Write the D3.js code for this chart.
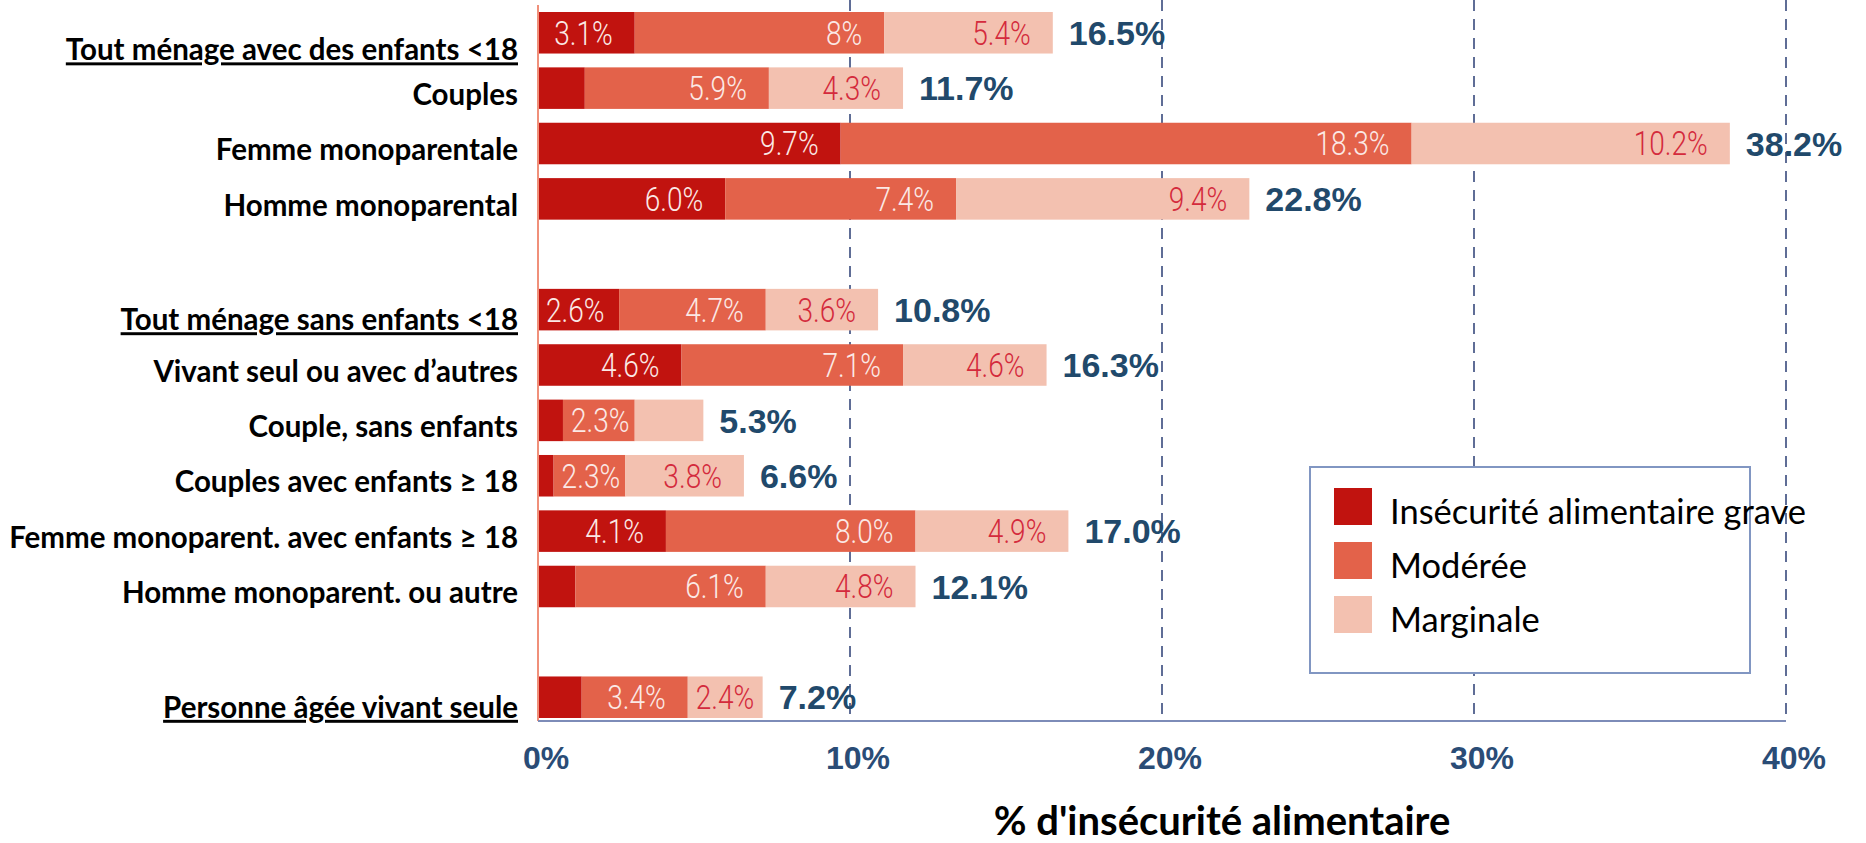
<!DOCTYPE html>
<html>
<head>
<meta charset="utf-8">
<script src="https://cdn.jsdelivr.net/npm/d3@7"></script>
<style>
  body { margin: 0; background: #fff; }
  svg { display: block; }
</style>
</head>
<body>
<div id="viz"></div>
<script>
'use strict';

// groups of households, one blank slot between groups
var groups = [
    ['Tout ménage avec des enfants <18', 'Couples', 'Femme monoparentale', 'Homme monoparental'],
    ['Tout ménage sans enfants <18', 'Vivant seul ou avec d\u2019autres', 'Couple, sans enfants',
     'Couples avec enfants \u2265 18', 'Femme monoparent. avec enfants \u2265 18', 'Homme monoparent. ou autre'],
    ['Personne âgée vivant seule']
];
var categories = groups.flat();

// % of households
var grave     = [3.1, 1.5, 9.7, 6.0, 2.6, 4.6, 0.8, 0.5, 4.1, 1.2, 1.4];
var moderee   = [8.0, 5.9, 18.3, 7.4, 4.7, 7.1, 2.3, 2.3, 8.0, 6.1, 3.4];
var marginale = [5.4, 4.3, 10.2, 9.4, 3.6, 4.6, 2.2, 3.8, 4.9, 4.8, 2.4];

// printed labels (empty = not shown)
var graveLabels     = ['3.1%', '', '9.7%', '6.0%', '2.6%', '4.6%', '', '', '4.1%', '', ''];
var modereeLabels   = ['8%', '5.9%', '18.3%', '7.4%', '4.7%', '7.1%', '2.3%', '2.3%', '8.0%', '6.1%', '3.4%'];
var marginaleLabels = ['5.4%', '4.3%', '10.2%', '9.4%', '3.6%', '4.6%', '', '3.8%', '4.9%', '4.8%', '2.4%'];
var totalLabels     = ['16.5%', '11.7%', '38.2%', '22.8%', '10.8%', '16.3%', '5.3%', '6.6%', '17.0%', '12.1%', '7.2%'];

var xTicks = [0, 10, 20, 30, 40];
var seriesNames = ['Insécurité alimentaire grave', 'Modérée', 'Marginale'];
var seriesKeys = ['grave', 'moderee', 'marginale'];
var colors = ['#c1130f', '#e3624a', '#f3c1b0'];
var labelColors = ['#fbe9e6', '#fbe9e6', '#d42a3c'];

var W = 1866, H = 843;

// slot list with spacers between groups
var slots = [];
groups.forEach(function(g, gi) {
    if (gi > 0) slots.push('gap' + gi);
    g.forEach(function(c) { slots.push(c); });
});
var headings = groups.map(function(g) { return g[0]; });

var rows = categories.map(function(c, i) {
    return {
        name: c,
        grave: grave[i], moderee: moderee[i], marginale: marginale[i],
        labels: [graveLabels[i], modereeLabels[i], marginaleLabels[i]],
        total: totalLabels[i]
    };
});

var x = d3.scaleLinear().domain([0, 40]).range([538, 1786]);
var y = d3.scaleBand().domain(slots).range([12, 718]).paddingInner(0.25).paddingOuter(0);

var svg = d3.select('#viz').append('svg')
    .attr('width', W)
    .attr('height', H);

// dashed gridlines
svg.append('g')
    .selectAll('line')
    .data(xTicks.filter(function(d) { return d > 0; }))
    .enter().append('line')
    .attr('x1', d => x(d)).attr('x2', d => x(d))
    .attr('y1', 0).attr('y2', 721)
    .attr('stroke', '#5f6d96')
    .attr('stroke-width', 2)
    .attr('stroke-dasharray', '11,8');

var stack = d3.stack().keys(seriesKeys);
var series = stack(rows);

var layer = svg.append('g')
    .selectAll('g')
    .data(series)
    .enter().append('g')
    .attr('fill', (d, i) => colors[i]);

layer.selectAll('rect')
    .data(d => d)
    .enter().append('rect')
    .attr('x', d => x(d[0]))
    .attr('y', d => y(d.data.name))
    .attr('width', d => x(d[1]) - x(d[0]))
    .attr('height', y.bandwidth());

// segment labels, right aligned near the segment end (narrow light font)
var squeeze = 0.85;
series.forEach(function(s, si) {
    var g = svg.append('g');
    s.forEach(function(d) {
        var txt = d.data.labels[si];
        if (!txt) return;
        var x0 = x(d[0]), x1 = x(d[1]);
        var yc = y(d.data.name) + y.bandwidth() / 2;
        var t = g.append('text')
            .text(txt)
            .attr('dy', '0.36em')
            .attr('text-anchor', 'end')
            .attr('fill', labelColors[si])
            .style('font-family', 'Roboto, sans-serif')
            .style('font-weight', 300)
            .style('font-size', '33px');
        var w = t.node().getComputedTextLength() * squeeze;
        var xe;
        if (w + 8 > x1 - x0) {
            xe = (x0 + x1) / 2 + w / 2;
        } else {
            xe = Math.min(Math.max(x1 - 22, x0 + 8 + w), x1 - 3);
        }
        t.attr('transform', 'translate(' + xe + ',' + yc + ') scale(' + squeeze + ',1)');
    });
});

// totals
svg.append('g')
    .selectAll('text')
    .data(rows)
    .enter().append('text')
    .attr('x', d => x(d.grave + d.moderee + d.marginale) + 16)
    .attr('y', d => y(d.name) + y.bandwidth() / 2)
    .attr('dy', '0.36em')
    .attr('fill', '#21496b')
    .style('font-family', '"Liberation Sans", Arial, sans-serif')
    .style('font-weight', 'bold')
    .style('font-size', '34px')
    .text(d => d.total);

// left axis line
svg.append('line')
    .attr('x1', x(0)).attr('x2', x(0))
    .attr('y1', 5).attr('y2', 721)
    .attr('stroke', '#f0907a')
    .attr('stroke-width', 2);

// bottom axis
svg.append('line')
    .attr('x1', x(0)).attr('x2', x(40))
    .attr('y1', 721).attr('y2', 721)
    .attr('stroke', '#7d8cb8')
    .attr('stroke-width', 2);

svg.append('g')
    .selectAll('text')
    .data(xTicks)
    .enter().append('text')
    .attr('x', d => x(d) + 8)
    .attr('y', 757)
    .attr('dy', '0.36em')
    .attr('text-anchor', 'middle')
    .attr('fill', '#2a4c76')
    .style('font-family', '"Liberation Sans", Arial, sans-serif')
    .style('font-weight', 'bold')
    .style('font-size', '32px')
    .text(d => d + '%');

svg.append('text')
    .attr('x', 1222)
    .attr('y', 821)
    .attr('dy', '0.36em')
    .attr('text-anchor', 'middle')
    .attr('fill', '#000')
    .style('font-family', 'Lato, sans-serif')
    .style('font-weight', 'bold')
    .style('font-size', '40px')
    .text("% d'insécurité alimentaire");

// category labels
svg.append('g')
    .selectAll('text')
    .data(categories)
    .enter().append('text')
    .attr('x', 518)
    .attr('y', function(d, i) {
        var shift = i === 0 ? 17 : (headings.indexOf(d) >= 0 ? 10 : 6);
        return y(d) + y.bandwidth() / 2 + shift;
    })
    .attr('dy', '0.36em')
    .attr('text-anchor', 'end')
    .attr('fill', '#000')
    .style('font-family', 'Lato, sans-serif')
    .style('font-weight', 'bold')
    .style('font-size', '29.5px')
    .style('text-decoration', d => headings.indexOf(d) >= 0 ? 'underline' : 'none')
    .text(d => d);

// legend
var legend = svg.append('g');
legend.append('rect')
    .attr('x', 1310).attr('y', 467)
    .attr('width', 440).attr('height', 206)
    .attr('fill', '#fff')
    .attr('stroke', '#8196c2')
    .attr('stroke-width', 2);

var item = legend.selectAll('g')
    .data(seriesNames)
    .enter().append('g')
    .attr('transform', (d, i) => 'translate(1334,' + (488 + i * 54) + ')');
item.append('rect')
    .attr('width', 38).attr('height', 37)
    .attr('fill', (d, i) => colors[i]);
item.append('text')
    .attr('x', 56)
    .attr('y', 24)
    .attr('dy', '0.36em')
    .attr('fill', '#000')
    .style('font-family', 'Lato, sans-serif')
    .style('font-size', '34.5px')
    .text(d => d);
</script>
</body>
</html>
